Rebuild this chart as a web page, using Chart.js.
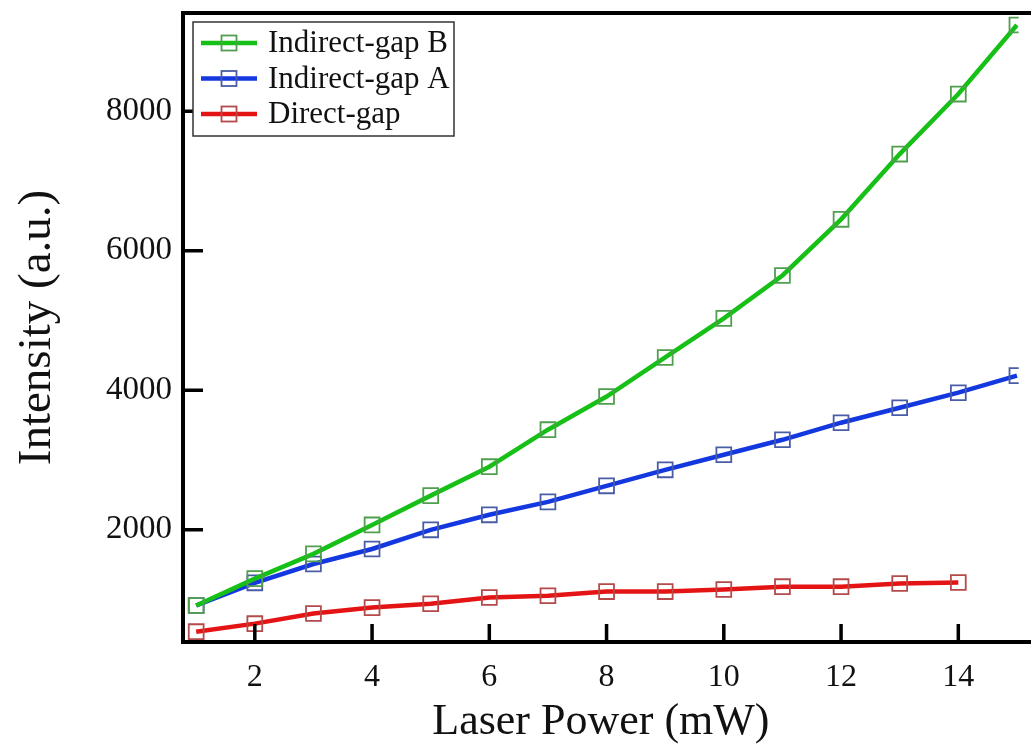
<!DOCTYPE html>
<html>
<head>
<meta charset="utf-8">
<script src="https://cdn.jsdelivr.net/npm/chart.js@4.4.1/dist/chart.umd.min.js"></script>
<style>
html,body{margin:0;padding:0;background:#fff;}
#wrap{width:1031px;height:749px;}
</style>
</head>
<body>
<div id="wrap"><canvas id="c" width="1031" height="749"></canvas></div>
<script>
const powers = [1,2,3,4,5,6,7,8,9,10,11,12,13,14,15];
const indirectB = [915,1300,1655,2070,2490,2905,3435,3910,4470,5030,5645,6450,7385,8245,9235];
const indirectA = [915,1240,1510,1725,2000,2215,2400,2630,2860,3075,3290,3535,3750,3965,4210];
const directPowers = [1,2,3,4,5,6,7,8,9,10,11,12,13,14];
const direct = [540,655,800,885,940,1030,1055,1115,1115,1145,1185,1185,1230,1245];
const xTicks = [2,4,6,8,10,12,14];
const yTicks = [2000,4000,6000,8000];
const seriesNames = ['Indirect-gap B','Indirect-gap A','Direct-gap'];

const FONT = "'Liberation Serif','Times New Roman',serif";

function pts(xs, ys){ return xs.map((x,i)=>({x:x,y:ys[i]})); }

const lineColors = ['#16c016','#1438e0','#e41414'];
const markColors = ['#4f9f4f','#4a5ca6','#b44a4a'];

function mkSet(label, data, i){
  return {
    label: label, data: data,
    borderColor: lineColors[i], borderWidth: 4.5,
    pointStyle: 'rect', pointRadius: 10.5, pointBorderWidth: 1.8,
    pointBorderColor: markColors[i], pointBackgroundColor: 'rgba(0,0,0,0)',
    pointHoverRadius: 10.5, tension: 0, fill: false
  };
}

const frame = {
  id: 'frame',
  afterDraw(chart){
    const ctx = chart.ctx, a = chart.chartArea;
    const xs = chart.scales.x, ys = chart.scales.y;
    ctx.save();
    ctx.strokeStyle = '#000';
    ctx.lineWidth = 4;
    ctx.lineCap = 'butt';
    ctx.beginPath();
    ctx.moveTo(a.left, a.top); ctx.lineTo(1031, a.top);
    ctx.moveTo(a.left, a.top - 2); ctx.lineTo(a.left, a.bottom + 2);
    ctx.moveTo(a.left - 2, a.bottom); ctx.lineTo(1031, a.bottom);
    ctx.stroke();
    ctx.lineWidth = 3.5;
    ctx.beginPath();
    xTicks.forEach(v=>{ const p = xs.getPixelForValue(v); ctx.moveTo(p, a.bottom); ctx.lineTo(p, a.bottom - 18); });
    yTicks.forEach(v=>{ const p = ys.getPixelForValue(v); ctx.moveTo(a.left, p); ctx.lineTo(a.left + 20, p); });
    ctx.stroke();

    // legend
    const lx = 193, ly = 22, lw = 261, lh = 114;
    ctx.fillStyle = '#fff';
    ctx.fillRect(lx, ly, lw, lh);
    ctx.strokeStyle = '#333';
    ctx.lineWidth = 1.5;
    ctx.strokeRect(lx, ly, lw, lh);
    ctx.font = '31px ' + FONT;
    ctx.textBaseline = 'middle';
    ctx.textAlign = 'left';
    chart.data.datasets.forEach((ds, i)=>{
      const cy = 43 + i*35.5;
      ctx.strokeStyle = ds.borderColor; ctx.lineWidth = 4.5;
      ctx.beginPath(); ctx.moveTo(201, cy); ctx.lineTo(257, cy); ctx.stroke();
      ctx.strokeStyle = ds.pointBorderColor; ctx.lineWidth = 1.8;
      ctx.strokeRect(229 - 7.5, cy - 7.5, 15, 15);
      ctx.fillStyle = '#111';
      ctx.fillText(ds.label, 268, cy + 1);
    });
    ctx.restore();
  }
};

new Chart(document.getElementById('c'), {
  type: 'line',
  data: {
    datasets: [
      mkSet(seriesNames[0], pts(powers, indirectB), 0),
      mkSet(seriesNames[1], pts(powers, indirectA), 1),
      mkSet(seriesNames[2], pts(directPowers, direct), 2)
    ]
  },
  options: {
    responsive: false, animation: false,
    devicePixelRatio: 1,
    layout: { padding: { top: 13, left: 0, right: 0, bottom: 0 } },
    plugins: { legend: { display: false }, tooltip: { enabled: false } },
    scales: {
      x: {
        type: 'linear', min: 0.775, max: 15.03,
        afterBuildTicks: s => { s.ticks = xTicks.map(v=>({value:v})); },
        afterFit: s => { s.height = 107; s.paddingLeft = 0; s.paddingRight = 0; },
        grid: { display: false, drawTicks: false },
        border: { display: false },
        ticks: { font: { family: FONT, size: 32 }, color: '#111', padding: 16, maxRotation: 0, autoSkip: false, callback: v => String(v) },
        title: { display: true, text: 'Laser Power (mW)', font: { family: FONT, size: 44 }, color: '#111', padding: { top: 0, bottom: 0 } }
      },
      y: {
        type: 'linear', min: 392, max: 9407,
        afterBuildTicks: s => { s.ticks = yTicks.map(v=>({value:v})); },
        afterFit: s => { s.width = 183; s.paddingTop = 0; s.paddingBottom = 0; },
        grid: { display: false, drawTicks: false },
        border: { display: false },
        ticks: { font: { family: FONT, size: 33 }, color: '#111', padding: 11, callback: v => String(v) },
        title: { display: true, text: 'Intensity (a.u.)', font: { family: FONT, size: 47 }, color: '#111', padding: { top: 9, bottom: 0 } }
      }
    }
  },
  plugins: [frame]
});
</script>
</body>
</html>
